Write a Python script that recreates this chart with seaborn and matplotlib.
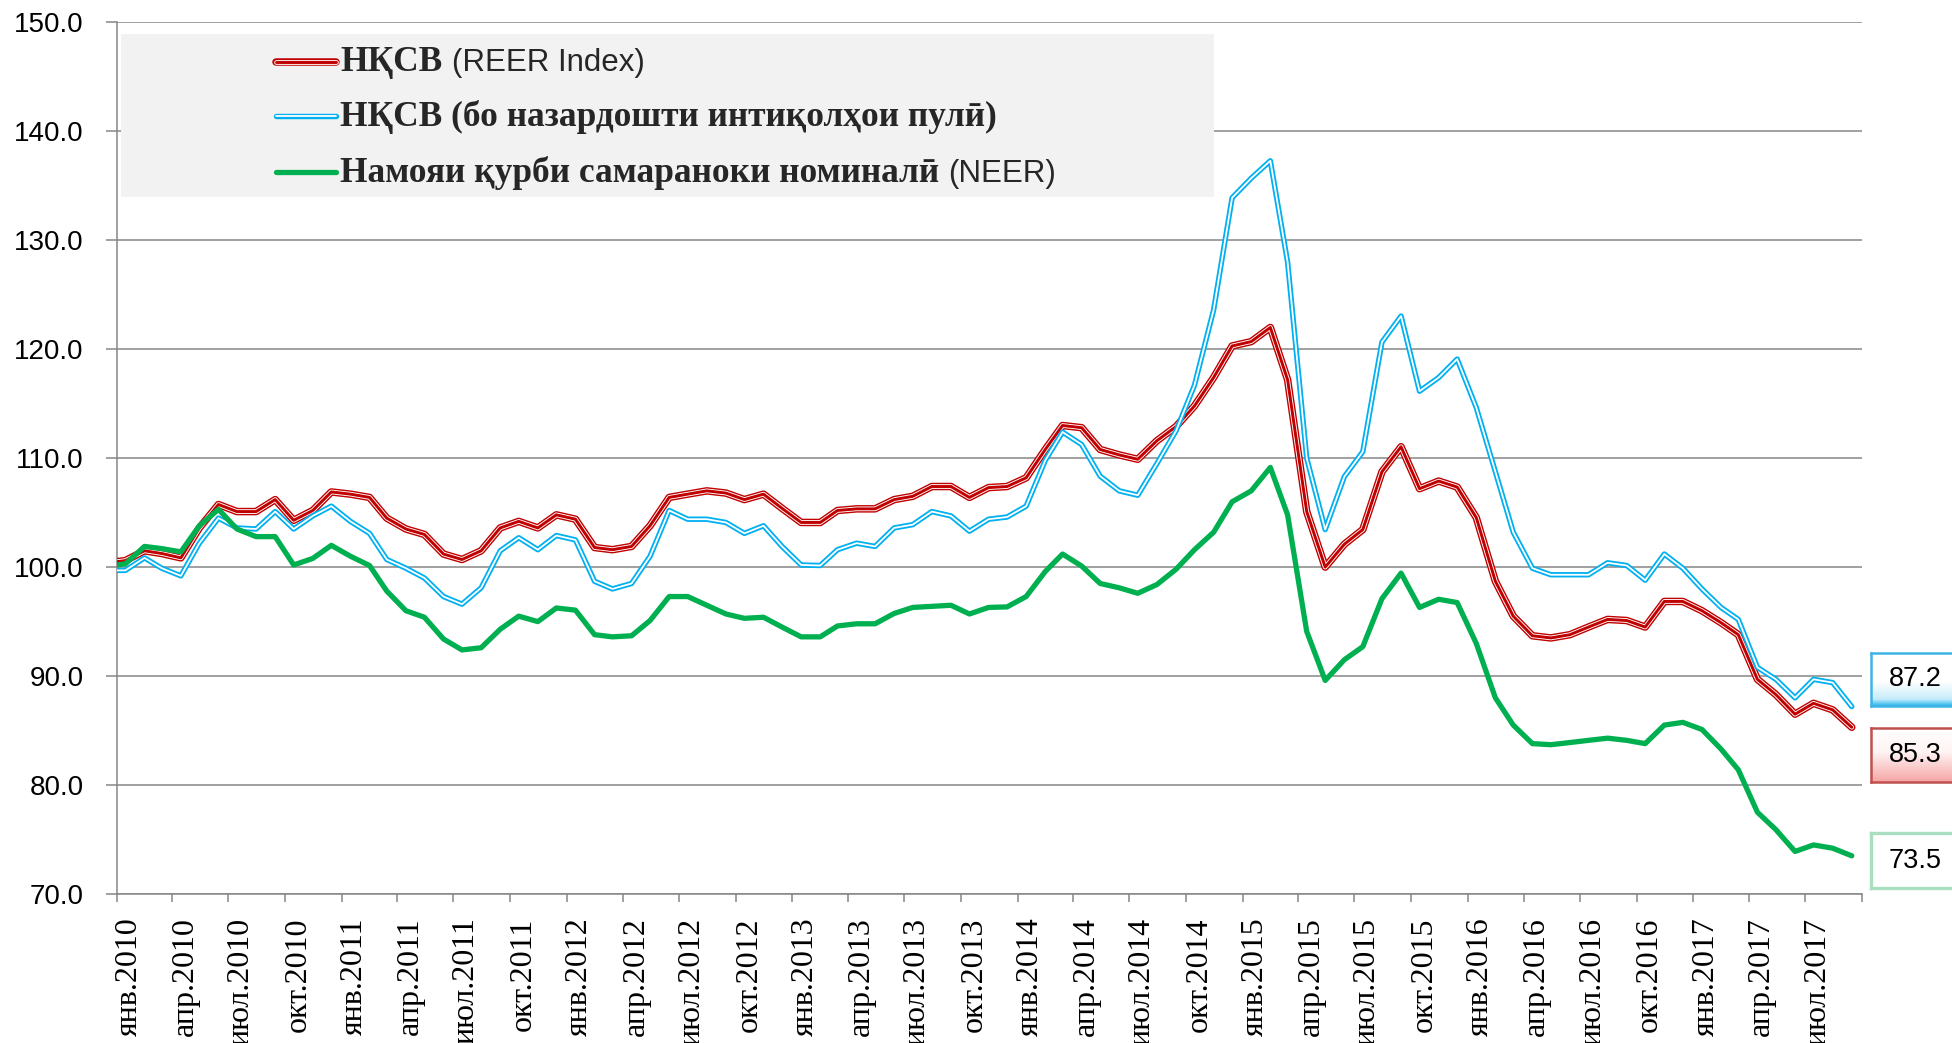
import matplotlib
matplotlib.use("Agg")
import matplotlib.pyplot as plt
import matplotlib.patheffects as pe
from matplotlib.patches import Rectangle
from matplotlib.transforms import ScaledTranslation
from matplotlib.ticker import FormatStrFormatter
from matplotlib.colors import LinearSegmentedColormap
import numpy as np
import pandas as pd
import seaborn as sns

# first point = 1 Jan 2010 base, then one reading per month (drawn mid-month)
dates = [pd.Timestamp("2010-01-01")] + list(
    pd.date_range("2010-01-01", "2017-09-01", freq="MS") + pd.Timedelta(days=14))

# НҚСВ (REER Index)
reer = [100.5,
        100.6, 101.5, 101.25, 100.85, 103.6, 105.75, 105.1, 105.1, 106.2, 104.3, 105.2, 106.9,
        106.7, 106.4, 104.5, 103.5, 103.0, 101.2, 100.7, 101.5, 103.6, 104.2, 103.6, 104.8,
        104.4, 101.8, 101.6, 101.9, 103.8, 106.4, 106.7, 107.0, 106.8, 106.2, 106.7, 105.4,
        104.1, 104.1, 105.2, 105.35, 105.35, 106.2, 106.5, 107.4, 107.4, 106.4, 107.3, 107.4,
        108.2, 110.8, 113.0, 112.8, 110.8, 110.3, 109.9, 111.6, 112.9, 114.8, 117.4, 120.3,
        120.7, 122.0, 117.2, 105.1, 100.0, 102.1, 103.45, 108.75, 111.05, 107.2, 107.9, 107.35,
        104.55, 98.7, 95.5, 93.7, 93.5, 93.8, 94.5, 95.2, 95.1, 94.5, 96.85, 96.85,
        96.0, 94.9, 93.8, 89.7, 88.3, 86.5, 87.5, 86.9, 85.3]

# НҚСВ (бо назардошти интиқолҳои пулӣ)
reer_remit = [99.7,
              99.7, 100.85, 99.9, 99.2, 102.2, 104.5, 103.6, 103.5, 105.1, 103.5, 104.7, 105.6,
              104.2, 103.1, 100.7, 99.9, 99.0, 97.3, 96.6, 98.1, 101.5, 102.7, 101.6, 102.9,
              102.5, 98.7, 98.0, 98.5, 101.0, 105.2, 104.4, 104.4, 104.1, 103.1, 103.8, 101.9,
              100.2, 100.15, 101.6, 102.2, 101.9, 103.6, 103.9, 105.1, 104.7, 103.3, 104.4, 104.6,
              105.6, 109.8, 112.4, 111.25, 108.35, 107.0, 106.6, 109.5, 112.5, 116.7, 123.6, 133.9,
              135.7, 137.3, 128.0, 110.0, 103.45, 108.3, 110.6, 120.65, 123.05, 116.15, 117.4, 119.1,
              114.65, 108.75, 103.2, 99.9, 99.3, 99.3, 99.3, 100.4, 100.15, 98.8, 101.2, 99.9,
              98.0, 96.3, 95.2, 90.8, 89.7, 88.0, 89.7, 89.4, 87.2]

# Намояи қурби самараноки номиналӣ (NEER)
neer = [100.2,
        100.3, 101.9, 101.7, 101.4, 103.8, 105.3, 103.5, 102.8, 102.8, 100.2, 100.8, 102.0,
        101.0, 100.15, 97.8, 96.0, 95.4, 93.4, 92.4, 92.6, 94.3, 95.5, 95.0, 96.25,
        96.05, 93.8, 93.6, 93.7, 95.1, 97.3, 97.3, 96.5, 95.7, 95.3, 95.4, 94.5,
        93.6, 93.6, 94.6, 94.8, 94.8, 95.75, 96.3, 96.4, 96.5, 95.7, 96.3, 96.35,
        97.3, 99.6, 101.2, 100.1, 98.5, 98.1, 97.6, 98.4, 99.8, 101.6, 103.2, 106.0,
        107.0, 109.15, 104.8, 94.1, 89.6, 91.5, 92.7, 97.1, 99.45, 96.3, 97.05, 96.75,
        93.0, 88.0, 85.5, 83.8, 83.7, 83.9, 84.1, 84.3, 84.1, 83.8, 85.5, 85.75,
        85.1, 83.3, 81.4, 77.5, 75.9, 73.9, 74.5, 74.2, 73.5]

month_names = ["янв", "апр", "июл", "окт"]
years = list(range(2010, 2018))
tick_labels = [f"{m}.{y}" for y in years for m in month_names][:31]

df = pd.DataFrame({"date": dates, "reer": reer, "reer_remit": reer_remit, "neer": neer})

sns.set_theme(style="white")
plt.rcParams["font.family"] = ["Liberation Sans", "DejaVu Sans"]
SERIF = ["Liberation Serif", "DejaVu Serif"]

RED = "#C00000"
BLUE = "#00B0F0"
GREEN = "#00B050"
GRID = "#868686"

fig = plt.figure(figsize=(19.52, 10.43), dpi=100)
ax = fig.add_axes([0.0598, 0.1429, 0.8939, 0.8356])

red_fx = [pe.Stroke(linewidth=5.4, foreground=RED), pe.Stroke(linewidth=3.4, foreground="white"), pe.Normal()]
blue_fx = [pe.Stroke(linewidth=3.9, foreground=BLUE), pe.Normal()]

sns.lineplot(data=df, x="date", y="reer", ax=ax, color=RED, lw=2.1,
             path_effects=red_fx, solid_joinstyle="round", solid_capstyle="round", zorder=3)
sns.lineplot(data=df, x="date", y="reer_remit", ax=ax, color="white", lw=1.3,
             path_effects=blue_fx, solid_joinstyle="round", zorder=4)
sns.lineplot(data=df, x="date", y="neer", ax=ax, color=GREEN, lw=3.8,
             solid_joinstyle="round", solid_capstyle="round", zorder=5)

# axes
ax.set_xlim(pd.Timestamp("2010-01-01"), pd.Timestamp("2017-10-01"))
ax.set_ylim(70, 150)
ax.set_yticks(np.arange(70, 151, 10))
ax.yaxis.set_major_formatter(FormatStrFormatter("%.1f"))
ticks = pd.date_range("2010-01-01", "2017-10-01", freq="QS")
ax.set_xticks(ticks)
ax.set_xticklabels(tick_labels + [""])
ax.set_xlabel("")
ax.set_ylabel("")
ax.yaxis.grid(True, color=GRID, lw=1.1)
ax.xaxis.grid(False)
ax.set_axisbelow(True)
for side in ["top", "right"]:
    ax.spines[side].set_visible(False)
for side in ["left", "bottom"]:
    ax.spines[side].set_color(GRID)
    ax.spines[side].set_linewidth(1.1)
ax.tick_params(axis="y", left=True, direction="out", length=8, width=1.1, color=GRID,
               pad=16, labelsize=20, labelcolor="black")
ax.tick_params(axis="x", bottom=True, direction="out", length=6, width=1.1, color=GRID,
               pad=11, labelsize=23, labelrotation=90, labelcolor="black")
shift = ScaledTranslation(13 / 100, 0, fig.dpi_scale_trans)
for lab in ax.get_xticklabels():
    lab.set_fontfamily(SERIF)
    lab.set_fontsize(23)
    lab.set_rotation(90)
    lab.set_ha("center")
    lab.set_va("top")
    lab.set_transform(lab.get_transform() + shift)

# legend drawn by hand (mixed fonts in labels)
ax.add_patch(Rectangle((0.0025, 0.7997), 0.6263, 0.187, transform=ax.transAxes,
                       facecolor="#F2F2F2", edgecolor="none", zorder=6))
hx = [0.0913, 0.1257]
ax.plot(hx, [0.9549, 0.9549], transform=ax.transAxes, color=RED, lw=2.1,
        path_effects=red_fx, solid_capstyle="round", zorder=7)
ax.plot(hx, [0.8926, 0.8926], transform=ax.transAxes, color="white", lw=1.3,
        path_effects=blue_fx, zorder=7)
ax.plot(hx, [0.8287, 0.8287], transform=ax.transAxes, color=GREEN, lw=3.8,
        solid_capstyle="round", zorder=7)

entries = [("НҚСВ", "(REER Index)", 0.9446),
           ("НҚСВ (бо назардошти интиқолҳои пулӣ)", "", 0.8811),
           ("Намояи қурби самараноки номиналӣ", "(NEER)", 0.8172)]
renderer = fig.canvas.get_renderer()
for bold, plain, yb in entries:
    t = ax.text(0.1282, yb, bold, transform=ax.transAxes, fontfamily=SERIF,
                fontweight="bold", fontsize=25.5, va="baseline", ha="left", zorder=8)
    if plain:
        bb = t.get_window_extent(renderer)
        x_end = ax.transAxes.inverted().transform((bb.x1 + 9, bb.y0))[0]
        ax.text(x_end, yb, plain, transform=ax.transAxes, fontsize=22.5,
                va="baseline", ha="left", zorder=8)

# value boxes on the right
def value_box(bottom, height, value, colors, edge, lw):
    bax = fig.add_axes([0.9584, bottom, 0.05, height])
    cmap = LinearSegmentedColormap.from_list("g", colors)
    bax.imshow(np.linspace(0, 1, 64).reshape(-1, 1), cmap=cmap, aspect="auto",
               extent=[0, 1, 0, 1], origin="upper", vmin=0, vmax=1)
    bax.set_xticks([])
    bax.set_yticks([])
    for s in bax.spines.values():
        s.set_color(edge)
        s.set_linewidth(lw)
    bax.text(0.454, 0.5, f"{value:.1f}", ha="center", va="center", fontsize=19.5,
             transform=bax.transAxes, color="black")

value_box(0.3231, 0.0511, reer_remit[-1],
          [(0, "white"), (0.55, "white"), (0.88, "#C6ECFB"), (1, "#2DB7EE")], "#3FB4E6", 1.8)
value_box(0.2505, 0.0518, reer[-1],
          [(0, "white"), (0.45, "#FFF4F4"), (1, "#F6A6A6")], "#C0504D", 1.8)
value_box(0.1486, 0.0527, neer[-1],
          [(0, "white"), (1, "white")], "#A9DFC0", 2.4)

fig.savefig("out.png", dpi=100)
